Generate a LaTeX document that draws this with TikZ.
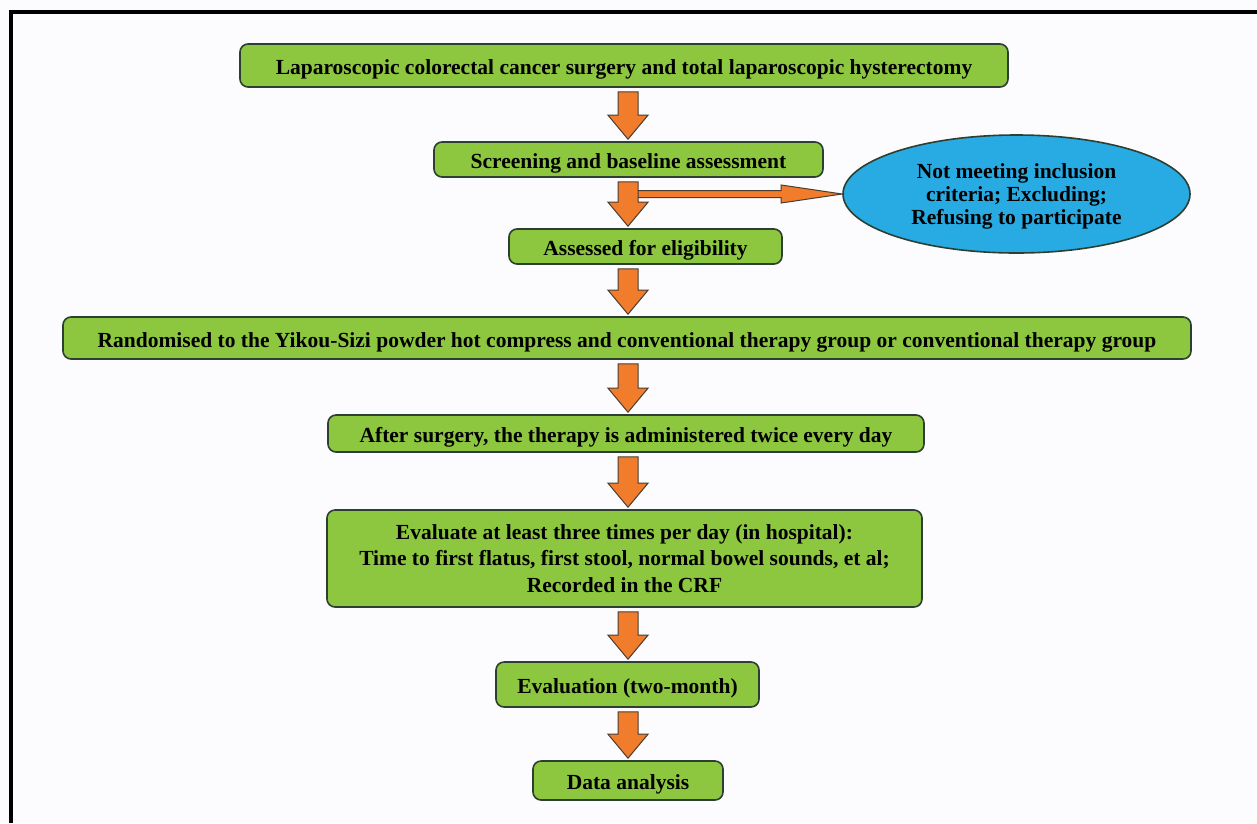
\documentclass[tikz,border=0pt]{standalone}
\usepackage{fontspec}
\setmainfont{Liberation Serif}
\usetikzlibrary{calc,shapes.geometric}

\definecolor{boxgreen}{RGB}{141,198,63}
\definecolor{boxline}{RGB}{45,62,50}
\definecolor{arrorange}{RGB}{240,124,44}
\definecolor{arrline}{RGB}{72,62,52}
\definecolor{exclblue}{RGB}{40,170,226}
\definecolor{paper}{RGB}{252,252,254}

\tikzset{
    box/.style={draw=boxline, fill=boxgreen, line width=1.6pt, rounded corners=8pt,
        inner sep=0pt, align=center,
        font=\bfseries\fontsize{21.5}{26.5}\selectfont},
    onebox/.style={box, text height=20pt, text depth=2pt},
    exclbox/.style={ellipse, draw=boxline, fill=exclblue, line width=1.6pt,
        inner sep=0pt, align=center,
        font=\bfseries\fontsize{21.5}{23}\selectfont},
    blockarrow/.style={draw=arrline, fill=arrorange, line width=1pt, line join=miter}
}

% fat orange arrow from the bottom of one box to the top of the next
\newcommand{\orangedown}[2]{%
    \filldraw [blockarrow] let \p1 = ($(#1.south -| axis) + (0, 4)$),
        \p2 = ($(#2.north -| axis) + (0, -2)$) in
        (\x1 - 10pt, \y1) -- (\x1 + 10pt, \y1) -- (\x1 + 10pt, \y2 + 24pt)
        -- (\x1 + 20pt, \y2 + 24pt) -- (\x2, \y2) -- (\x1 - 20pt, \y2 + 24pt)
        -- (\x1 - 10pt, \y2 + 24pt) -- cycle;
}

% thin orange arrow pointing right
\newcommand{\orangeright}[2]{%
    \filldraw [blockarrow] let \p1 = (#1), \p2 = (#2.west) in
        (\x1, \y1 + 3.5pt) -- (\x2 - 61pt, \y1 + 3.5pt) -- (\x2 - 61pt, \y1 + 9pt)
        -- (\x2, \y2) -- (\x2 - 61pt, \y1 - 9pt) -- (\x2 - 61pt, \y1 - 3.5pt)
        -- (\x1, \y1 - 3.5pt) -- cycle;
}

\begin{document}
\begin{tikzpicture}[x = 1pt, y = -1pt]

        \fill [paper] (0, 0) rectangle (1257, 823);
        \useasboundingbox (0, 0) rectangle (1257, 823);

        \draw [line width = 4pt] (11, 823) -- (11, 11.5) -- (1257, 11.5);

        \coordinate (axis) at (628, 0);

        \node [onebox, minimum width = 768, minimum height = 43] (surgery) at (624, 65.5)
            {Laparoscopic colorectal cancer surgery and total laparoscopic hysterectomy};
        \node [onebox, minimum width = 389, minimum height = 35] (screen) at (628.5, 159.5)
            {Screening and baseline assessment};
        \node [exclbox, minimum width = 347, minimum height = 118] (excl) at (1016.5, 194)
            {\raisebox{-3pt}[\height][\depth]{\begin{tabular}{@{}c@{}}Not meeting inclusion\\criteria; Excluding;\\Refusing to participate\end{tabular}}};
        \node [onebox, minimum width = 273, minimum height = 35] (assess) at (645.5, 246.5)
            {Assessed for eligibility};
        \node [onebox, minimum width = 1128, minimum height = 42] (random) at (627, 338)
            {Randomised to the Yikou-Sizi powder hot compress and conventional therapy group or conventional therapy group};
        \node [onebox, minimum width = 596, minimum height = 37] (therapy) at (626, 433.5)
            {After surgery, the therapy is administered twice every day};
        \node [box, minimum width = 595, minimum height = 97] (evaluate) at (624.5, 558.5)
            {Evaluate at least three times per day (in hospital):\\
             Time to first flatus, first stool, normal bowel sounds, et al;\\
             Recorded in the CRF};
        \node [onebox, minimum width = 263, minimum height = 45] (twomonth) at (627.5, 684.5)
            {Evaluation (two-month)};
        \node [onebox, minimum width = 190, minimum height = 39] (analysis) at (628, 780.5)
            {Data analysis};

        \coordinate (branch) at ($(axis |- excl.west) + (9, 0)$);
        \orangeright{branch}{excl}

        \foreach \a/\b in {surgery/screen, screen/assess, assess/random, random/therapy,
                therapy/evaluate, evaluate/twomonth, twomonth/analysis} {
                \orangedown{\a}{\b}
            }

    \end{tikzpicture}
\end{document}
